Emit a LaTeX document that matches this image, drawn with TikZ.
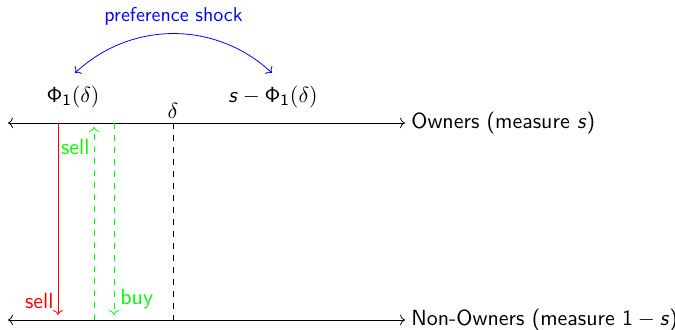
\documentclass[tikz,border=0pt,11pt]{standalone}
\usepackage{amsmath}
\usepackage{xcolor}
\usepackage{tikz}
\usetikzlibrary{arrows.meta,positioning}

\newcommand{\msl}[1]{\text{\textsf{\slshape #1}}}
\newcommand{\phione}{\mathsf{\Phi}_{\mathsf{1}}(\delta)}

\begin{document}
\begin{tikzpicture}[
    x=0.5pt, y=-0.5pt,
    every node/.style={font=\sffamily, inner sep=2pt},
    axis/.style={<->},
    flow/.style={->},
    gflow/.style={->, green, dashed},
    cut/.style={dashed},
]
\useasboundingbox (0,0) rectangle (675,330);

% Axes
\coordinate (oL) at (8,123);
\coordinate (oR) at (405,123);
\coordinate (nL) at (8,320);
\coordinate (nR) at (405,320);
\draw[axis] (oL) -- (oR);
\draw[axis] (nL) -- (nR);
\node (own) [right=1pt of oR] {Owners (measure $\msl{s}$)};
\node (non) [right=1pt of nR] {Non-Owners (measure $\mathsf{1}-\msl{s}$)};

% Threshold
\coordinate (d0) at (173,123);
\coordinate (d1) at (173,320);
\draw[cut] (d0) -- (d1);
\node (delta) [above=0pt of d0] {$\delta$};

% Masses
\node (phi) at (73,97) {$\phione$};
\node (sphi) at (273,97) {$\msl{s}-\phione$};
\coordinate (ps0) at (75,73);
\coordinate (ps1) at (272,73);
\draw[<->, blue] (ps0) to[bend left=43] node[above=2pt, font=\sffamily\small] {preference shock} (ps1);

% Flows
\coordinate (r0) at (58,123);
\coordinate (r1) at (58,315);
\draw[flow, red] (r0) -- (r1);
\node (rsell) [left=0pt of r1, yshift=7pt, text=red] {sell};

\coordinate (g0) at (94,320);
\coordinate (g1) at (94,127);
\draw[gflow] (g0) -- (g1);
\node (gsell) [left=0pt of g1, yshift=-10pt, text=green] {sell};

\coordinate (b0) at (114,123);
\coordinate (b1) at (114,315);
\draw[gflow] (b0) -- (b1);
\node (buy) [right=1pt of b1, yshift=8pt, text=green] {buy};
\end{tikzpicture}
\end{document}
